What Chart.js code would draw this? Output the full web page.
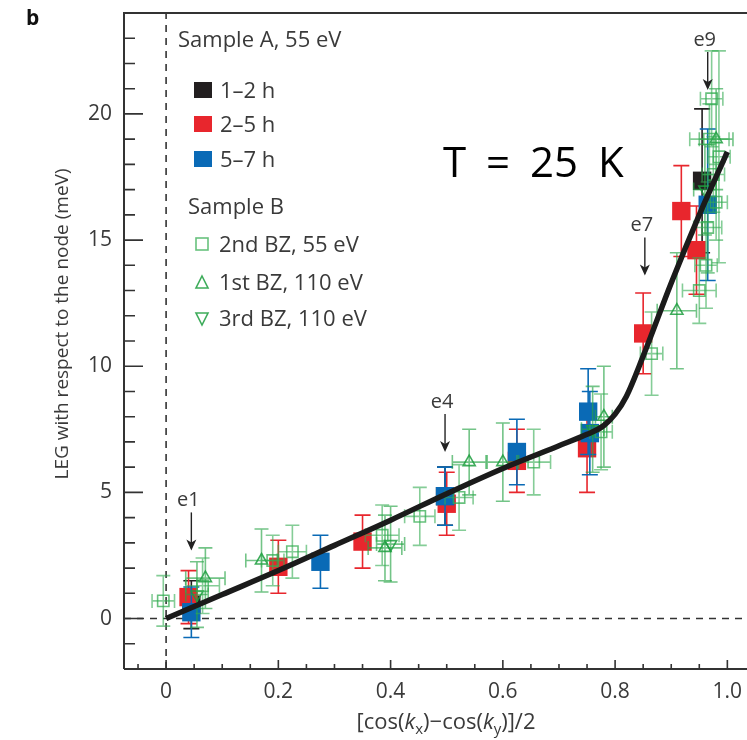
<!DOCTYPE html>
<html>
<head>
<meta charset="utf-8">
<script src="https://cdn.jsdelivr.net/npm/chart.js@4.4.0/dist/chart.umd.min.js"></script>
<style>
  html, body { margin: 0; padding: 0; background: #fff; overflow: hidden; }
  #wrap { width: 747px; height: 740px; }
  #chart { display: block; width: 747px; height: 740px; }
</style>
</head>
<body>
<div id="wrap"><canvas id="chart" width="747" height="740"></canvas></div>
<script>
const FONT = '"Open Sans", "Noto Sans", sans-serif';
const TXT = '#3a3a3a';

// axis ticks
const xTickValues = [0, 0.2, 0.4, 0.6, 0.8, 1.0];
const xTickLabels = ['0', '0.2', '0.4', '0.6', '0.8', '1.0'];
const yTickValues = [0, 5, 10, 15, 20];

// Sample A, 55 eV
const blackX = [0.045, 0.497, 0.955];
const blackY = [0.55, 4.85, 17.35];
const blackYErr = [0.95, 1.15, 2.85];

const redX = [0.040, 0.200, 0.350, 0.500, 0.625, 0.750, 0.850, 0.918, 0.945];
const redY = [0.85, 2.05, 3.05, 4.55, 6.25, 6.75, 11.3, 16.15, 14.6];
const redYErr = [1.05, 1.05, 1.05, 1.25, 1.25, 1.75, 1.6, 1.8, 1.75];

const blueX = [0.045, 0.275, 0.497, 0.625, 0.752, 0.755, 0.965];
const blueY = [0.25, 2.25, 4.85, 6.6, 8.2, 7.35, 16.4];
const blueYErr = [1.0, 1.05, 1.15, 1.3, 1.7, 1.65, 3.0];

// Sample B
const sqX = [-0.005, 0.065, 0.190, 0.225, 0.385, 0.452, 0.522, 0.655, 0.775, 0.865, 0.950, 0.962, 0.965, 0.975, 0.980, 0.968, 0.972, 0.985];
const sqY = [0.7, 1.3, 2.3, 2.65, 3.3, 4.05, 4.8, 6.2, 7.4, 10.5, 13.0, 14.0, 15.5, 17.6, 16.5, 19.0, 20.6, 18.3];
const sqXErr = [0.02, 0.03, 0.02, 0.025, 0.03, 0.027, 0.025, 0.03, 0.02, 0.02, 0.03, 0.02, 0.025, 0.02, 0.02, 0.035, 0.02, 0.02];
const sqYErr = [1.0, 1.1, 1.0, 1.05, 1.2, 1.15, 1.3, 1.3, 1.5, 1.65, 1.3, 1.7, 1.8, 1.5, 1.5, 1.4, 1.9, 4.2];

const upX = [0.07, 0.17, 0.39, 0.54, 0.60, 0.78, 0.91, 0.98];
const upY = [1.6, 2.3, 2.8, 6.2, 6.2, 8.0, 12.2, 19.0];
const upXErr = [0.035, 0.028, 0.03, 0.03, 0.028, 0.015, 0.035, 0.03];
const upYErr = [1.2, 1.25, 1.3, 1.3, 1.55, 2.0, 2.3, 2.0];

const downX = [0.055, 0.40, 0.76, 0.96];
const downY = [0.95, 2.95, 7.5, 17.0];
const downXErr = [0.02, 0.025, 0.02, 0.02];
const downYErr = [1.3, 1.5, 1.7, 1.8];

// guide curve
const curveX = [0, 0.1, 0.2, 0.3, 0.4, 0.5, 0.6, 0.7, 0.75, 0.78, 0.8, 0.82, 0.85, 0.9, 0.95, 1.0];
const curveY = [0, 0.95, 1.9, 2.9, 3.9, 4.95, 5.95, 6.85, 7.3, 7.65, 8.1, 8.8, 10.4, 13.3, 16.0, 18.5];

// arrows: label, x, tip y
const arrowLabels = ['e1', 'e4', 'e7', 'e9'];
const arrowX = [0.045, 0.497, 0.853, 0.965];
const arrowTipY = [2.7, 6.6, 13.6, 20.95];

const pts = (xs, ys) => xs.map((x, i) => ({ x: x, y: ys[i] }));

const GREEN_SQ = 'rgba(52,172,82,0.75)';
const GREEN_TRI = 'rgba(28,158,62,0.85)';

const errorBars = {
  id: 'errorBars',
  beforeDatasetDraw(chart, args) {
    const ds = chart.data.datasets[args.index];
    if (!ds.yErr) return;
    const xs = chart.scales.x, ys = chart.scales.y, ctx = chart.ctx, a = chart.chartArea;
    const cap = ds.capSize || 7;
    ctx.save();
    ctx.beginPath();
    ctx.rect(a.left, a.top, a.right - a.left, a.bottom - a.top);
    ctx.clip();
    ctx.strokeStyle = ds.errColor;
    ctx.lineWidth = 1.6;
    ds.data.forEach((p, i) => {
      const px = xs.getPixelForValue(p.x), py = ys.getPixelForValue(p.y);
      const yt = ys.getPixelForValue(p.y + ds.yErr[i]);
      const yb = ys.getPixelForValue(p.y - ds.yErr[i]);
      ctx.beginPath();
      ctx.moveTo(px, yt); ctx.lineTo(px, yb);
      ctx.moveTo(px - cap, yt); ctx.lineTo(px + cap, yt);
      ctx.moveTo(px - cap, yb); ctx.lineTo(px + cap, yb);
      if (ds.xErr) {
        const xl = xs.getPixelForValue(p.x - ds.xErr[i]);
        const xr = xs.getPixelForValue(p.x + ds.xErr[i]);
        ctx.moveTo(xl, py); ctx.lineTo(xr, py);
        ctx.moveTo(xl, py - cap); ctx.lineTo(xl, py + cap);
        ctx.moveTo(xr, py - cap); ctx.lineTo(xr, py + cap);
      }
      ctx.stroke();
    });
    ctx.restore();
  }
};

const decor = {
  id: 'decor',
  beforeDatasetsDraw(chart) {
    const ctx = chart.ctx, xs = chart.scales.x, ys = chart.scales.y, a = chart.chartArea;
    ctx.save();
    ctx.strokeStyle = '#333';
    ctx.lineWidth = 1.6;
    ctx.setLineDash([7, 6]);
    const x0 = xs.getPixelForValue(0), y0 = ys.getPixelForValue(0);
    ctx.beginPath();
    ctx.moveTo(x0, a.bottom); ctx.lineTo(x0, a.top);
    ctx.moveTo(a.left, y0); ctx.lineTo(a.right, y0);
    ctx.stroke();
    ctx.restore();
  },
  afterDraw(chart) {
    const ctx = chart.ctx, xs = chart.scales.x, ys = chart.scales.y, a = chart.chartArea;
    ctx.save();
    // frame
    ctx.strokeStyle = '#333';
    ctx.lineWidth = 2;
    ctx.beginPath();
    ctx.moveTo(a.left, a.bottom); ctx.lineTo(a.left, a.top); ctx.lineTo(a.right, a.top);
    ctx.moveTo(a.left, a.bottom); ctx.lineTo(a.right, a.bottom);
    ctx.stroke();
    // inward ticks
    ctx.lineWidth = 1.6;
    ctx.beginPath();
    for (let k = -1; k <= 20; k++) {
      const px = xs.getPixelForValue(k * 0.05);
      const len = k % 4 === 0 ? 9 : 5;
      ctx.moveTo(px, a.bottom); ctx.lineTo(px, a.bottom - len);
    }
    for (let v = -1; v <= 23; v++) {
      const py = ys.getPixelForValue(v);
      const len = v % 5 === 0 ? 19 : 11;
      ctx.moveTo(a.left, py); ctx.lineTo(a.left + len, py);
    }
    ctx.stroke();

    // x tick labels
    ctx.fillStyle = TXT;
    ctx.font = '21px ' + FONT;
    ctx.textAlign = 'center';
    ctx.textBaseline = 'alphabetic';
    xTickValues.forEach((v, i) => {
      ctx.fillText(xTickLabels[i], xs.getPixelForValue(v), a.bottom + 29);
    });

    // arrows + labels
    ctx.strokeStyle = '#222';
    ctx.font = '20px ' + FONT;
    arrowLabels.forEach((lab, i) => {
      const px = xs.getPixelForValue(arrowX[i]);
      const tip = ys.getPixelForValue(arrowTipY[i]);
      const top = tip - 38;
      ctx.fillText(lab, px - 3, top - 6);
      ctx.lineWidth = 1.4;
      ctx.beginPath();
      ctx.moveTo(px, top); ctx.lineTo(px, tip - 2);
      ctx.stroke();
      ctx.beginPath();
      ctx.moveTo(px, tip);
      ctx.lineTo(px - 5, tip - 11);
      ctx.lineTo(px, tip - 8);
      ctx.lineTo(px + 5, tip - 11);
      ctx.closePath();
      ctx.fillStyle = '#222';
      ctx.fill();
      ctx.fillStyle = TXT;
    });

    // legend
    ctx.textAlign = 'left';
    ctx.font = '22px ' + FONT;
    ctx.fillStyle = TXT;
    ctx.fillText('Sample A, 55 eV', 178, 47);
    const aItems = [['1–2 h', '#231f20', 90], ['2–5 h', '#e8262d', 124], ['5–7 h', '#0a6ab6', 159]];
    aItems.forEach(it => {
      ctx.fillStyle = it[1];
      ctx.fillRect(194, it[2] - 8, 18, 16);
      ctx.fillStyle = TXT;
      ctx.fillText(it[0], 220, it[2] + 8);
    });
    ctx.fillText('Sample B', 188, 214);
    ctx.lineWidth = 1.6;
    ctx.strokeStyle = GREEN_SQ;
    ctx.strokeRect(196, 238, 12, 12);
    ctx.fillText('2nd BZ, 55 eV', 219, 252);
    ctx.strokeStyle = GREEN_TRI;
    ctx.beginPath();
    ctx.moveTo(202, 276); ctx.lineTo(208, 288); ctx.lineTo(196, 288); ctx.closePath();
    ctx.stroke();
    ctx.fillText('1st BZ, 110 eV', 219, 290);
    ctx.beginPath();
    ctx.moveTo(196, 313); ctx.lineTo(208, 313); ctx.lineTo(202, 325); ctx.closePath();
    ctx.stroke();
    ctx.fillText('3rd BZ, 110 eV', 219, 326);

    // panel letter
    ctx.fillStyle = '#111';
    ctx.font = 'bold 21px ' + FONT;
    ctx.fillText('b', 26, 25);

    // temperature
    ctx.font = '42px ' + FONT;
    ctx.fillStyle = '#000';
    if ('wordSpacing' in ctx) ctx.wordSpacing = '9px';
    ctx.fillText('T = 25 K', 443, 177);
    if ('wordSpacing' in ctx) ctx.wordSpacing = '0px';

    // y title
    ctx.font = '19px ' + FONT;
    ctx.fillStyle = TXT;
    ctx.save();
    ctx.translate(68, 324);
    ctx.rotate(-Math.PI / 2);
    ctx.textAlign = 'center';
    ctx.fillText('LEG with respect to the node (meV)', 0, 0);
    ctx.restore();

    // x title with italic k and subscripts
    const parts = [
      ['[cos(', '22px', 0], ['k', 'italic 22px', 0], ['x', '15px', 5],
      [')\u2212cos(', '22px', 0], ['k', 'italic 22px', 0], ['y', '15px', 5], [')]/2', '22px', 0]
    ];
    let total = 0;
    parts.forEach(p => { ctx.font = p[1] + ' ' + FONT; total += ctx.measureText(p[0]).width; });
    let cx = 446 - total / 2;
    parts.forEach(p => {
      ctx.font = p[1] + ' ' + FONT;
      ctx.fillText(p[0], cx, 729 + p[2]);
      cx += ctx.measureText(p[0]).width;
    });
    ctx.restore();
  }
};

const sampleA = (xs, ys, yerr, color, label) => ({
  type: 'scatter', label: label, data: pts(xs, ys), yErr: yerr, errColor: color, capSize: 8,
  pointStyle: 'rect', pointRadius: 13, backgroundColor: color, borderColor: color, borderWidth: 0,
  order: 3
});

new Chart(document.getElementById('chart'), {
  data: {
    datasets: [
      {
        type: 'line', label: 'fit', data: pts(curveX, curveY),
        borderColor: '#1b1b1b', borderWidth: 5.5, pointRadius: 0, fill: false,
        cubicInterpolationMode: 'monotone', order: 0
      },
      {
        type: 'scatter', label: '2nd BZ, 55 eV', data: pts(sqX, sqY), xErr: sqXErr, yErr: sqYErr,
        errColor: 'rgba(52,172,82,0.6)', capSize: 7, pointStyle: 'rect', pointRadius: 8,
        backgroundColor: 'rgba(0,0,0,0)', borderColor: GREEN_SQ, borderWidth: 1.6, order: 1
      },
      {
        type: 'scatter', label: '1st BZ, 110 eV', data: pts(upX, upY), xErr: upXErr, yErr: upYErr,
        errColor: 'rgba(40,165,70,0.65)', capSize: 7, pointStyle: 'triangle', pointRadius: 7,
        backgroundColor: 'rgba(0,0,0,0)', borderColor: GREEN_TRI, borderWidth: 1.6, order: 1
      },
      {
        type: 'scatter', label: '3rd BZ, 110 eV', data: pts(downX, downY), xErr: downXErr, yErr: downYErr,
        errColor: 'rgba(40,165,70,0.65)', capSize: 7, pointStyle: 'triangle', rotation: 180, pointRadius: 7,
        backgroundColor: 'rgba(0,0,0,0)', borderColor: GREEN_TRI, borderWidth: 1.6, order: 1
      },
      sampleA(blueX, blueY, blueYErr, '#0a6ab6', '5–7 h'),
      sampleA(redX, redY, redYErr, '#e8262d', '2–5 h'),
      sampleA(blackX, blackY, blackYErr, '#231f20', '1–2 h')
    ]
  },
  options: {
    responsive: false,
    animation: false,
    devicePixelRatio: 1,
    layout: { autoPadding: false, padding: { top: 13, right: 0, left: 0, bottom: 0 } },
    plugins: { legend: { display: false }, tooltip: { enabled: false } },
    scales: {
      x: {
        type: 'linear', min: -0.075, max: 1.035,
        afterFit: s => { s.height = 71; s.paddingLeft = 0; s.paddingRight = 0; },
        grid: { display: false, drawTicks: false },
        border: { display: false },
        ticks: { display: false }
      },
      y: {
        type: 'linear', min: -2, max: 24,
        afterBuildTicks: s => { s.ticks = yTickValues.map(v => ({ value: v })); },
        afterFit: s => { s.width = 124; s.paddingTop = 0; s.paddingBottom = 0; },
        grid: { display: false, drawTicks: false },
        border: { display: false },
        ticks: { padding: 12, color: TXT, font: { family: FONT, size: 21 } }
      }
    }
  },
  plugins: [errorBars, decor]
});
</script>
</body>
</html>
